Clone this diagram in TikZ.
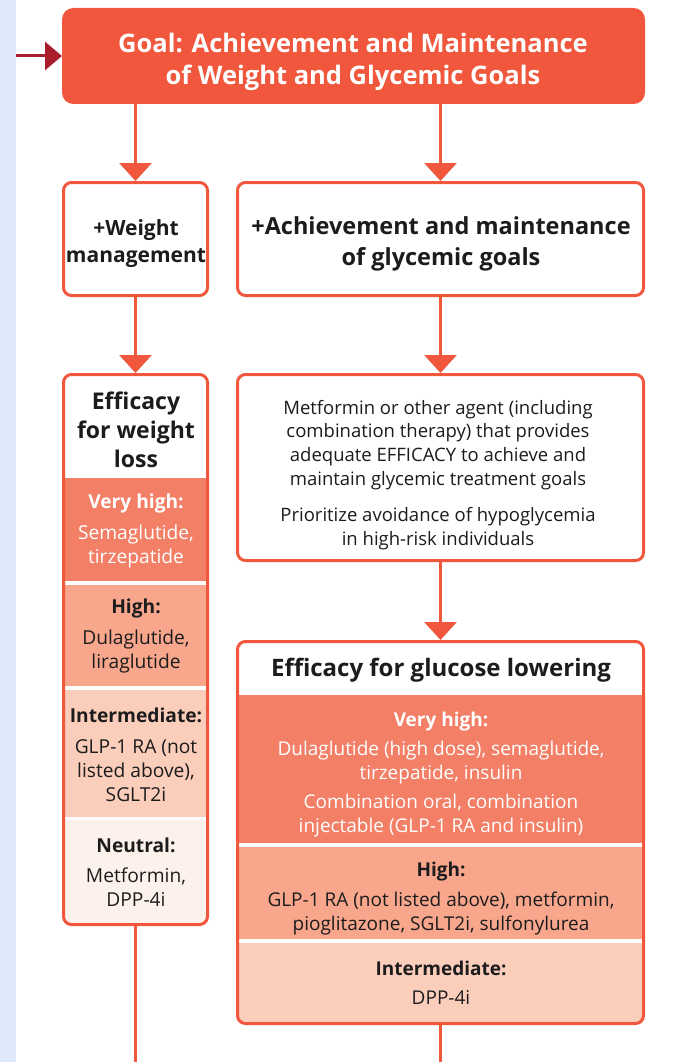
\documentclass[tikz,border=0pt]{standalone}
\usepackage{fontspec}
\setmainfont{Open Sans}
\usetikzlibrary{arrows.meta}
\definecolor{orr}{HTML}{F0573C}
\definecolor{dred}{HTML}{A81E2D}
\definecolor{bandvh}{HTML}{F27F66}
\definecolor{bandh}{HTML}{F8A78D}
\definecolor{bandi}{HTML}{FBCDBB}
\definecolor{bandn}{HTML}{FDF1EC}
\definecolor{stripblue}{HTML}{DDE9F9}
\definecolor{dark}{HTML}{1C1C1C}
\begin{document}
\begin{tikzpicture}[x=1pt,y=-1pt,
  box/.style={draw=orr, line width=3pt, rounded corners=8pt, fill=white, inner sep=0pt},
  arr/.style={draw=orr, line width=3pt, -{Triangle[width=32pt,length=18pt]}},
  inarr/.style={draw=dred, line width=3pt, -{Triangle[width=28pt,length=17pt]}},
  ln/.style={draw=orr, line width=3pt},
  txt/.style={align=center, inner sep=0pt, text=dark},
  wtxt/.style={align=center, inner sep=0pt, text=white}]
\useasboundingbox (0,0) rectangle (677,1062);
\fill[white] (0,0) rectangle (677,1062);
\fill[stripblue] (0,0) rectangle (16,1062);

% goal
\node[box, draw=orr, fill=orr, rounded corners=10pt, minimum width=580pt, minimum height=93pt] (goal) at (353.5,56) {};
\node[wtxt, font=\bfseries\fontsize{25.5}{32}\selectfont] (goalt) at (353,62) {Goal: Achievement and Maintenance\\of Weight and Glycemic Goals};
\coordinate (in) at (16,56);
\draw[inarr] (in) -- (goal.west);

% second row
\node[box, minimum width=144pt, minimum height=113pt] (wm) at (135.5,239) {};
\node[txt, font=\bfseries\fontsize{21}{27}\selectfont] (wmt) at (136,244) {+Weight\\management};
\node[box, minimum width=406pt, minimum height=113pt] (ag) at (440.5,239) {};
\node[txt, font=\bfseries\fontsize{23.5}{31}\selectfont] (agt) at (441,244) {+Achievement and maintenance\\of glycemic goals};
\draw[arr] (goal.south -| wm.north) -- (wm.north);
\draw[arr] (goal.south -| ag.north) -- (ag.north);

% weight loss box
\begin{scope}
\clip[rounded corners=8pt] (63.5,374.5) rectangle (207.5,924.5);
\fill[white] (60,370) rectangle (212,930);
\fill[bandvh] (60,478) rectangle (212,581);
\fill[bandh] (60,585) rectangle (212,686);
\fill[bandi] (60,690) rectangle (212,817);
\fill[bandn] (60,820) rectangle (212,930);
\end{scope}
\node[box, fill=none, minimum width=144pt, minimum height=550pt] (wl) at (135.5,649.5) {};
\node[txt, font=\bfseries\fontsize{23}{29}\selectfont] (wlh) at (136,430) {Efficacy\\for weight\\loss};
\node[wtxt, font=\fontsize{19.2}{24}\selectfont] (wlvh) at (136,531) {\textbf{Very high:}\\[7pt]Semaglutide,\\tirzepatide};
\node[txt, font=\fontsize{19.2}{24}\selectfont] (wlhi) at (136,636) {\textbf{High:}\\[7pt]Dulaglutide,\\liraglutide};
\node[txt, font=\fontsize{19.2}{24}\selectfont] (wli) at (136,755) {\textbf{Intermediate:}\\[7pt]GLP-1 RA (not\\listed above),\\SGLT2i};
\node[txt, font=\fontsize{19.2}{24}\selectfont] (wln) at (136,872) {\textbf{Neutral:}\\[6pt]Metformin,\\DPP-4i};
\draw[arr] (wm) -- (wl);
\coordinate (wlend) at (135.5,1062);
\draw[ln] (wl.south) -- (wlend);

% metformin box
\node[box, minimum width=406pt, minimum height=186pt] (mf) at (440.5,467.5) {};
\node[txt, font=\fontsize{18.5}{23.7}\selectfont] (mft) at (438,475) {Metformin or other agent (including\\combination therapy) that provides\\adequate EFFICACY to achieve and\\maintain glycemic treatment goals\\[13pt]Prioritize avoidance of hypoglycemia\\in high-risk individuals};
\draw[arr] (ag) -- (mf);

% glucose lowering box
\begin{scope}
\clip[rounded corners=8pt] (237.5,641.5) rectangle (643.5,1023.5);
\fill[white] (230,630) rectangle (650,1030);
\fill[bandvh] (230,695) rectangle (650,843);
\fill[bandh] (230,847) rectangle (650,939);
\fill[bandi] (230,943) rectangle (650,1030);
\end{scope}
\node[box, fill=none, minimum width=406pt, minimum height=382pt] (gl) at (440.5,832.5) {};
\node[txt, font=\bfseries\fontsize{24}{28}\selectfont] (glh) at (441,670) {Efficacy for glucose lowering};
\node[wtxt, font=\fontsize{19}{24}\selectfont] (glvh) at (441,775) {\textbf{Very high:}\\[5pt]Dulaglutide (high dose), semaglutide,\\tirzepatide, insulin\\[5pt]Combination oral, combination\\injectable (GLP-1 RA and insulin)};
\node[txt, font=\fontsize{19}{24}\selectfont] (glhi) at (441,899) {\textbf{High:}\\[6pt]GLP-1 RA (not listed above), metformin,\\pioglitazone, SGLT2i, sulfonylurea};
\node[txt, font=\fontsize{19}{24}\selectfont] (gli) at (441,983) {\textbf{Intermediate:}\\[5pt]DPP-4i};
\draw[arr] (mf) -- (gl);
\coordinate (glend) at (440.5,1062);
\draw[ln] (gl.south) -- (glend);
\end{tikzpicture}
\end{document}
